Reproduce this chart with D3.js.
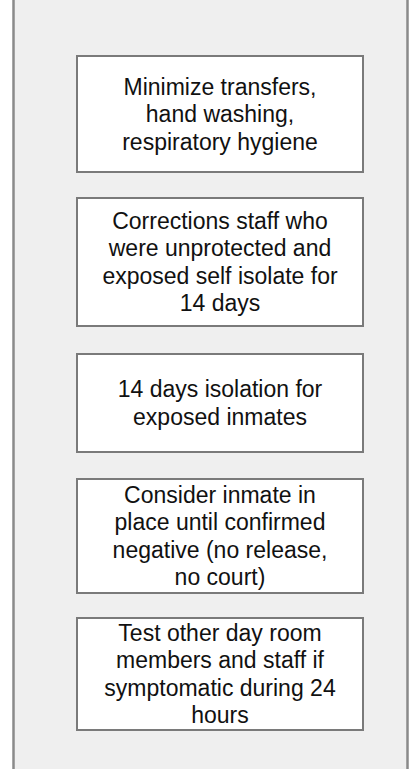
<!DOCTYPE html>
<html lang="en">
<head>
    <meta charset="UTF-8">
    <title>Precautions</title>
    <script src="https://cdnjs.cloudflare.com/ajax/libs/d3/7.8.5/d3.min.js"></script>
    <style>
        body { margin: 0; background: #ffffff; }
        svg { display: block; }
        .step-text { font-family: 'Liberation Sans', Arial, sans-serif; font-size: 23px; fill: #111111; text-anchor: middle; }
    </style>
</head>
<body>
    <div id="chart"></div>
    <script>
        // text of each step, one entry per line
        const steps = [
            ["Minimize transfers,", "hand washing,", "respiratory hygiene"],
            ["Corrections staff who", "were unprotected and", "exposed self isolate for", "14 days"],
            ["14 days isolation for", "exposed inmates"],
            ["Consider inmate in", "place until confirmed", "negative (no release,", "no court)"],
            ["Test other day room", "members and staff if", "symptomatic during 24", "hours"]
        ];
        // box extents (top, bottom) in page pixels
        const boxTops = [56, 198, 354, 479, 618];
        const boxBottoms = [172, 326, 452, 593, 730];

        const width = 410, height = 769;
        const lineHeight = 27.5;

        const svg = d3.select('#chart').append('svg')
            .attr('width', width)
            .attr('height', height);

        // outer container (top and bottom run off the page)
        svg.append('rect')
            .attr('x', 13.5)
            .attr('y', -10)
            .attr('width', 394)
            .attr('height', height + 20)
            .attr('fill', '#efefef')
            .attr('stroke', '#8a8a8a')
            .attr('stroke-width', 2.5);

        const x = d3.scaleLinear().domain([0, 1]).range([77, 363]);

        const g = svg.selectAll('.step')
            .data(steps)
            .enter().append('g')
            .attr('class', 'step');

        g.append('rect')
            .attr('x', x(0))
            .attr('y', (d, i) => boxTops[i])
            .attr('width', x(1) - x(0))
            .attr('height', (d, i) => boxBottoms[i] - boxTops[i])
            .attr('fill', '#ffffff')
            .attr('stroke', '#7a7a7a')
            .attr('stroke-width', 2);

        g.each(function(lines, i) {
            const cy = (boxTops[i] + boxBottoms[i]) / 2;
            const y0 = cy - (lines.length - 1) * lineHeight / 2;
            d3.select(this).selectAll('text')
                .data(lines)
                .enter().append('text')
                .attr('class', 'step-text')
                .attr('x', x(0.5))
                .attr('y', (d, j) => y0 + j * lineHeight)
                .attr('dy', '0.35em')
                .text(d => d);
        });
    </script>
</body>
</html>
